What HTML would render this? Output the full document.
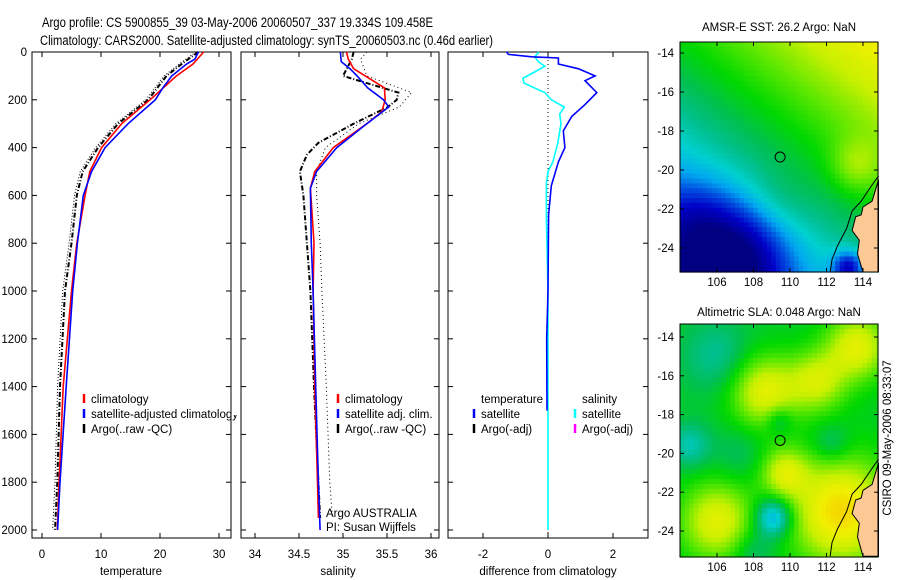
<!DOCTYPE html>
<html><head><meta charset="utf-8"><style>
html,body{margin:0;padding:0;background:#fff;}
svg{display:block;font-family:"Liberation Sans",sans-serif;}
</style></head><body>
<svg id="chart" width="900" height="580" viewBox="0 0 900 580" xmlns="http://www.w3.org/2000/svg">
<text x="42" y="27" font-size="13.5" textLength="391" lengthAdjust="spacingAndGlyphs">Argo profile: CS 5900855_39 03-May-2006 20060507_337 19.334S 109.458E</text>
<text x="40" y="45" font-size="13.5" textLength="453" lengthAdjust="spacingAndGlyphs">Climatology: CARS2000. Satellite-adjusted climatology: synTS_20060503.nc (0.46d earlier)</text>
<text x="779" y="31" font-size="11.5" text-anchor="middle">AMSR-E SST: 26.2 Argo: NaN</text>
<text x="779" y="316" font-size="11.5" text-anchor="middle">Altimetric SLA: 0.048 Argo: NaN</text>
<text x="0" y="0" font-size="11.5" text-anchor="middle" transform="translate(891,438) rotate(-90)">CSIRO 09-May-2006 08:33:07</text>
<g id="g"></g>
</svg>
<script>
// ---- depth axis ----
const depthTicks = [0,200,400,600,800,1000,1200,1400,1600,1800,2000];
// ---- temperature panel ----
const tTicks = [0,10,20,30];
const climTDepth = [0,50,100,200,300,400,500,600,800,1000,1400,1800,2000];
const climT = [27.4,25.6,22.8,18.3,13.5,10.1,8.1,7.3,5.9,5.0,3.6,2.9,2.6];
const satTDepth = [0,30,50,100,150,200,300,400,500,600,800,1000,1400,1800,2000];
const satT = [26.5,25.9,24.5,22.0,20.5,19.2,14.6,10.7,8.4,7.0,6.0,5.2,4.1,3.05,2.65];
const argoTDepth = [0,40,100,200,300,400,500,600,800,1000,1400,1800,2000];
const argoT = [26.5,24.2,21.1,18.0,12.9,9.5,6.9,5.9,5.0,3.9,3.05,2.6,2.2];
// ---- salinity panel ----
const sTicks = [34,34.5,35,35.5,36];
const climSDepth = [0,30,70,120,150,200,250,300,400,500,570,800,1000,1400,1800,1950];
const climS = [35.04,35.06,35.12,35.34,35.47,35.48,35.44,35.27,34.89,34.68,34.63,34.67,34.66,34.68,34.71,34.72];
const satSDepth = [0,40,70,100,150,200,230,300,400,500,570,800,1000,1400,1800,2000];
const satS = [34.97,34.98,35.08,35.16,35.28,35.46,35.52,35.27,34.93,34.70,34.63,34.64,34.66,34.69,34.72,34.74];
const argoSDepth = [0,30,100,130,170,200,230,300,380,430,500,600,800,1000,1400,1800,1950];
const argoS = [35.12,35.10,35.0,35.27,35.63,35.61,35.51,35.12,34.72,34.59,34.51,34.55,34.59,34.63,34.67,34.72,34.74];
const rawSDepth = [0,30,100,170,230,300,400,500,600,800,1000,1400,1800,1950];
const rawS = [35.27,35.2,35.27,35.78,35.64,35.18,34.80,34.70,34.70,34.74,34.76,34.81,34.85,34.88];
// ---- difference panel ----
const dTicks = [-2,0,2];
const dTDepth = [0,10,20,25,50,70,100,120,170,220,270,330,400,460,560,680,1000,1200,1500];
const dT = [-1.27,-1.22,-0.5,0.32,0.32,0.93,1.45,1.14,1.5,1.14,0.73,0.47,0.52,0.32,0.1,0.02,0,-0.04,-0.03];
const dSDepth = [0,20,40,60,90,110,130,170,200,230,260,300,380,460,500,550,700,1000,2000];
const dS = [-0.28,-0.41,-0.3,-0.1,-0.5,-0.77,-0.74,-0.1,0.1,0.5,0.36,0.4,0.3,0.15,0,-0.05,-0.05,0,0];
// ---- maps ----
const lonTicks = [106,108,110,112,114];
const latTicks = [-14,-16,-18,-20,-22,-24];
const sstBlobs = [[107,-24.6,1.9,-0.3],[104.8,-22.6,1.5,-0.12],[113.2,-25,0.6,-0.3],[113.6,-19.8,1.0,0.14],[109.5,-21.5,1.2,0.04]];
const slaBlobs = [[108.6,-16.8,1.3,0.3],[111.5,-16.3,1.1,0.25],[106,-23.5,1.4,0.3],[112.8,-23,1.9,0.4],[109.7,-21,0.9,0.25],[113.7,-14.5,1.2,0.3],[106,-15,1.3,-0.12],[104.5,-19.6,0.8,-0.15],[109.1,-23.3,0.7,-0.3],[112.3,-19.5,0.7,-0.1],[109.4,-18.3,0.5,-0.12],[107.2,-20,1.0,-0.06],[108,-25,0.8,-0.1]];
const floatLon = 109.458, floatLat = -19.334;

const NS='http://www.w3.org/2000/svg';
const G=document.getElementById('g');
function mk(tag,attrs,parent){const e=document.createElementNS(NS,tag);for(const k in attrs)e.setAttribute(k,attrs[k]);(parent||G).appendChild(e);return e;}
const yD = d => 52 + d*0.239;
const xT = t => 42 + t*5.9;
const xS = s => 255 + (s-34)*88;
const xDf = v => 548 + v*32.5;

function frame(x0,x1,name){
  const r=mk('rect',{x:x0,y:52,width:x1-x0,height:486,fill:'none',stroke:'#000','stroke-width':1});
  
  
  depthTicks.forEach(d=>{
    mk('line',{x1:x0,x2:x0+5,y1:yD(d),y2:yD(d),stroke:'#000'});
    mk('line',{x1:x1-5,x2:x1,y1:yD(d),y2:yD(d),stroke:'#000'});
  });
}
function xticks(ticks,fx,name,label,cx){
  ticks.forEach(t=>{
    const x=fx(t);
    mk('line',{x1:x,x2:x,y1:52,y2:57,stroke:'#000'});
    mk('line',{x1:x,x2:x,y1:533,y2:538,stroke:'#000'});
    const tx=mk('text',{x:x,y:558,'font-size':11.5,'text-anchor':'middle'});
    tx.textContent=t;
    
    
  });
  const l=mk('text',{x:cx,y:575,'font-size':11.5,'text-anchor':'middle'});
  l.textContent=label;
  
  
}
function line(depths,vals,fx,color,w,dash,name){
  const pts=depths.map((d,i)=>fx(vals[i]).toFixed(1)+','+yD(d).toFixed(1)).join(' ');
  const p=mk('polyline',{points:pts,fill:'none',stroke:color,'stroke-width':w,'stroke-dasharray':dash||'none'});
  
  
}
function legend(x,y,color,text,name){
  mk('line',{x1:x,x2:x,y1:y-9,y2:y,stroke:color,'stroke-width':2.5});
  const t=mk('text',{x:x+7,y:y,'font-size':11.5});
  t.textContent=text;
  
  
}

depthTicks.forEach(d=>{
  const t=mk('text',{x:27,y:yD(d)+4,'font-size':11.5,'text-anchor':'end'});
  t.textContent=d;
  
  
});

// temperature panel
frame(32,231,'temperature-panel');
xticks(tTicks,xT,'temperature','temperature',131);
line(argoTDepth,argoT.map(v=>v-0.4),xT,'#000',1,'1 2','argo-raw-temperature-line');
line(argoTDepth,argoT,xT,'#000',2,'5 2 1 2','argo-temperature-line');
line(climTDepth,climT,xT,'#f00',1.6,null,'climatology-temperature-line');
line(satTDepth,satT,xT,'#00f',1.6,null,'satellite-temperature-line');
legend(84,403,'#f00','climatology','legend-climatology');
legend(84,418,'#00f','satellite-adjusted climatology','legend-satellite');
legend(84,433,'#000','Argo(..raw -QC)','legend-argo');
mk('rect',{x:232,y:395,width:8,height:20,fill:'#fff'});

// salinity panel
frame(241,439,'salinity-panel');
xticks(sTicks,xS,'salinity','salinity',338);
line(rawSDepth,rawS,xS,'#000',1,'1 3','argo-raw-salinity-line');
line(argoSDepth,argoS,xS,'#000',2,'5 2 1 2','argo-salinity-line');
line(climSDepth,climS,xS,'#f00',1.6,null,'climatology-salinity-line');
line(satSDepth,satS,xS,'#00f',1.6,null,'satellite-salinity-line');
legend(338,403,'#f00','climatology','legend-sal-climatology');
legend(338,418,'#00f','satellite adj. clim.','legend-sal-satellite');
legend(338,433,'#000','Argo(..raw -QC)','legend-sal-argo');
const a1=mk('text',{x:326,y:517,'font-size':11.5});a1.textContent='Argo AUSTRALIA';


const a2=mk('text',{x:326,y:531,'font-size':11.5});a2.textContent='PI: Susan Wijffels';



// difference panel
frame(448,648,'difference-panel');
xticks(dTicks,xDf,'difference','difference from climatology',548);
mk('line',{x1:xDf(0),x2:xDf(0),y1:52,y2:538,stroke:'#000','stroke-dasharray':'1 3'});
line(dSDepth,dS,xDf,'#0ff',1.6,null,'salinity-difference-line');
line(dTDepth,dT,xDf,'#00f',1.6,null,'temperature-difference-line');
const lt=mk('text',{x:481,y:403,'font-size':11.5});lt.textContent='temperature';


const ls=mk('text',{x:582,y:403,'font-size':11.5});ls.textContent='salinity';


legend(474,418,'#00f','satellite','legend-diff-temp-satellite');
legend(474,433,'#000','Argo(-adj)','legend-diff-temp-argo');
legend(575,418,'#0ff','satellite','legend-diff-sal-satellite');
legend(575,433,'#f0f','Argo(-adj)','legend-diff-sal-argo');

// colormap
const stops=[[0,[0,0,128]],[0.12,[0,0,200]],[0.22,[0,80,224]],[0.3,[0,168,240]],[0.38,[0,208,208]],[0.45,[0,192,144]],[0.52,[0,192,80]],[0.6,[0,216,0]],[0.7,[96,232,0]],[0.8,[200,240,0]],[0.9,[240,240,0]],[1,[248,200,0]]];
function cmap(v){v=Math.max(0,Math.min(1,v));for(let i=1;i<stops.length;i++){if(v<=stops[i][0]){const a=stops[i-1],b=stops[i];const f=(v-a[0])/(b[0]-a[0]);const c=a[1].map((x,k)=>Math.round(x+(b[1][k]-x)*f));return 'rgb('+c.join(',')+')';}}return 'rgb(248,200,0)';}
function blobSum(lon,lat,blobs){let s=0;blobs.forEach(b=>{const d=(lon-b[0])**2+(lat-b[1])**2;s+=b[3]*Math.exp(-d/(2*b[2]*b[2]));});return s;}

function drawMap(top,bot,latTopPx,pxPerLat,field,name){
  const x0=680,x1=878;
  const fx=lon=>717+(lon-106)*18.25;
  const fy=lat=>latTopPx+(-14-lat)*pxPerLat;
  const lonMin=106+(x0-717)/18.25, lonMax=106+(x1-717)/18.25;
  const latMax=-14-(top-latTopPx)/pxPerLat, latMin=-14-(bot-latTopPx)/pxPerLat;
  const g=mk('g',{});
  
  
  const step=0.25;
  for(let lat=latMax;lat>latMin;lat-=step){
    for(let lon=lonMin;lon<lonMax;lon+=step){
      const xa=fx(lon),ya=fy(lat),xb=Math.min(x1,fx(lon+step)),yb=Math.min(bot,fy(lat-step));
      mk('rect',{x:xa.toFixed(1),y:ya.toFixed(1),width:(xb-xa+0.6).toFixed(1),height:(yb-ya+0.6).toFixed(1),fill:cmap(field(lon+step/2,lat-step/2))},g);
    }
  }
  const land=[[114.85,-20.5],[114.5,-21.6],[114.0,-21.9],[113.9,-22.3],[113.6,-22.4],[113.4,-23.1],[113.8,-23.6],[113.7,-24.3],[114.0,-25.3],[114.85,-25.3]];
  const lp=land.map(p=>fx(p[0]).toFixed(1)+','+Math.min(bot,fy(p[1])).toFixed(1)).join(' ');
  const l=mk('polygon',{points:lp,fill:'#fcc995',stroke:'#000','stroke-width':1},g);
  
  
  const shelf=[[114.85,-20.3],[114.4,-20.9],[113.9,-21.6],[113.4,-22.1],[113.1,-23.0],[112.6,-23.9],[112.3,-24.6],[112.2,-25.3]];
  mk('polyline',{points:shelf.map(p=>fx(p[0]).toFixed(1)+','+Math.min(bot,fy(p[1])).toFixed(1)).join(' '),fill:'none',stroke:'#000','stroke-width':1},g);
  mk('rect',{x:x0,y:top,width:x1-x0,height:bot-top,fill:'none',stroke:'#000'},g);
  const c=mk('circle',{cx:fx(floatLon),cy:fy(floatLat),r:5,fill:'none',stroke:'#000','stroke-width':1},g);
  
  
  lonTicks.forEach(t=>{const x=fx(t);mk('line',{x1:x,x2:x,y1:bot,y2:bot-4,stroke:'#000'},g);mk('line',{x1:x,x2:x,y1:top,y2:top+4,stroke:'#000'},g);
    const tx=mk('text',{x:x,y:bot+14,'font-size':11.5,'text-anchor':'middle'},g);tx.textContent=t;
    
    });
  latTicks.forEach(t=>{const y=fy(t);mk('line',{x1:x0,x2:x0+4,y1:y,y2:y,stroke:'#000'},g);mk('line',{x1:x1-4,x2:x1,y1:y,y2:y,stroke:'#000'},g);
    const tx=mk('text',{x:x0-6,y:y+4,'font-size':11.5,'text-anchor':'end'},g);tx.textContent=t;
    
    });
}
drawMap(42,272,53,19.5,(lon,lat)=>0.55+0.03*(lon-110)+0.04*(lat+19)+blobSum(lon,lat,sstBlobs),'sst-map');
drawMap(324,557,337,19.4,(lon,lat)=>0.56+blobSum(lon,lat,slaBlobs),'sla-map');
</script>
</body></html>
